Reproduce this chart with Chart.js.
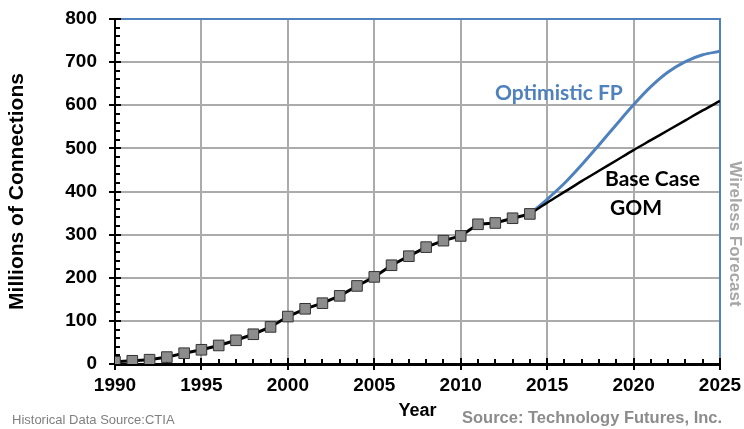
<!DOCTYPE html>
<html>
<head>
<meta charset="utf-8">
<script src="https://cdn.jsdelivr.net/npm/chart.js@4.4.1/dist/chart.umd.min.js"></script>
<style>
  html, body { margin: 0; padding: 0; background: #fff; }
  #wrap { width: 744px; height: 429px; }
</style>
</head>
<body>
<div id="wrap"><canvas id="myChart" width="744" height="429"></canvas></div>
<script>
// historical data (CTIA) and the two forecasts
const histYears = [1990, 1991, 1992, 1993, 1994, 1995, 1996, 1997, 1998, 1999,
  2000, 2001, 2002, 2003, 2004, 2005, 2006, 2007, 2008, 2009,
  2010, 2011, 2012, 2013, 2014];
const histValues = [5, 7.5, 10, 16, 25, 33, 43, 55, 69, 86,
  110, 128, 141, 158, 181, 202, 229, 250, 271, 286,
  297, 324, 327, 338, 348];

const forecastYears = [2014, 2015, 2016, 2017, 2018, 2019, 2020, 2021, 2022, 2023, 2024, 2025];
const baseValues = [348, 374, 399, 424, 448, 472, 496, 519, 542, 565, 588, 610];
const optimisticValues = [348, 382, 419, 462, 508, 555, 601, 643, 677, 701, 717, 725];

const labelOptimistic = "Optimistic FP";
const labelBase = ["Base Case", "GOM"];
const sideLabel = "Wireless Forecast";
const sourceLeft = "Historical Data Source:CTIA";
const sourceRight = "Source: Technology Futures, Inc.";

const BLUE = "#4f81bd";
const GRID = "#ababab";

function toPoints(xs, ys) {
  return xs.map((x, i) => ({ x: x, y: ys[i] }));
}

// minor ticks, blue frame and the text notes
const extrasPlugin = {
  id: "extras",
  beforeDatasetsDraw(chart) {
    const ctx = chart.ctx;
    const a = chart.chartArea;
    ctx.save();
    ctx.strokeStyle = BLUE;
    ctx.lineWidth = 2;
    ctx.beginPath();
    ctx.moveTo(a.left, a.top);
    ctx.lineTo(a.right, a.top);
    ctx.lineTo(a.right, a.bottom);
    ctx.stroke();

    const xs = chart.scales.x;
    const ys = chart.scales.y;
    ctx.strokeStyle = "#000";
    ctx.lineWidth = 2;
    ctx.beginPath();
    for (let yr = xs.min; yr <= xs.max; yr++) {
      const px = Math.round(xs.getPixelForValue(yr));
      if (yr % 5 === 0) {
        ctx.moveTo(px, a.bottom - 6);
        ctx.lineTo(px, a.bottom + 6);
      } else {
        ctx.moveTo(px, a.bottom - 5);
        ctx.lineTo(px, a.bottom);
      }
    }
    for (let v = ys.min; v <= ys.max; v += 20) {
      const py = Math.round(ys.getPixelForValue(v));
      if (v % 100 === 0) {
        ctx.moveTo(a.left - 6, py);
        ctx.lineTo(a.left + 6, py);
      } else {
        ctx.moveTo(a.left, py);
        ctx.lineTo(a.left + 5, py);
      }
    }
    ctx.stroke();
    ctx.restore();
  },
  afterDraw(chart) {
    const ctx = chart.ctx;
    ctx.save();
    ctx.textBaseline = "middle";

    ctx.fillStyle = BLUE;
    ctx.textAlign = "left";
    ctx.font = "bold 21px Lato, 'Open Sans', sans-serif";
    ctx.fillText(labelOptimistic, 495, 93);

    ctx.fillStyle = "#000";
    ctx.fillText(labelBase[0], 605, 179);
    ctx.fillText(labelBase[1], 610, 208);

    // vertical note on the right
    ctx.save();
    ctx.translate(735, 234);
    ctx.rotate(Math.PI / 2);
    ctx.textAlign = "center";
    ctx.fillStyle = "#a6a6a6";
    ctx.font = "bold 17px 'Liberation Sans', Arial, sans-serif";
    ctx.fillText(sideLabel, 0, 0);
    ctx.restore();

    ctx.textAlign = "left";
    ctx.fillStyle = "#808080";
    ctx.font = "13px 'Liberation Sans', Arial, sans-serif";
    ctx.fillText(sourceLeft, 12, 420);

    ctx.fillStyle = "#8c8c8c";
    ctx.font = "bold 16.5px 'Liberation Sans', Arial, sans-serif";
    ctx.fillText(sourceRight, 462, 418);
    ctx.restore();
  }
};

let ctx = document.getElementById("myChart").getContext("2d");
let myChart = new Chart(ctx, {
  type: "line",
  data: {
    datasets: [
      {
        label: "Optimistic FP",
        data: toPoints(forecastYears, optimisticValues),
        borderColor: BLUE,
        borderWidth: 3,
        pointRadius: 0,
        cubicInterpolationMode: "monotone",
        order: 3,
      },
      {
        label: "Base Case GOM",
        data: toPoints(forecastYears, baseValues),
        borderColor: "#000",
        borderWidth: 2.5,
        pointRadius: 0,
        cubicInterpolationMode: "monotone",
        order: 2,
      },
      {
        label: "Historical",
        data: toPoints(histYears, histValues),
        borderColor: "#000",
        borderWidth: 3,
        pointStyle: "rect",
        pointRadius: 7.5,
        pointBackgroundColor: "#8c8c8c",
        pointBorderColor: "#333",
        pointBorderWidth: 1,
        tension: 0,
        order: 1,
      },
    ],
  },
  options: {
    responsive: false,
    animation: false,
    devicePixelRatio: 1,
    layout: { padding: { top: 19, right: 24, left: 0, bottom: 0 } },
    plugins: {
      legend: { display: false },
      tooltip: { enabled: false },
    },
    scales: {
      x: {
        type: "linear",
        min: 1990,
        max: 2025,
        afterFit: (scale) => {
          scale.height = 65;
          scale.paddingLeft = 0;
          scale.paddingRight = 0;
        },
        ticks: {
          stepSize: 5,
          padding: 10,
          color: "#000",
          font: { family: "'Liberation Sans', Arial, sans-serif", size: 19, weight: "bold" },
          callback: (v) => String(v),
          maxRotation: 0,
        },
        grid: { color: GRID, lineWidth: 2, drawTicks: false },
        border: { color: "#000", width: 3 },
        title: {
          display: true,
          text: "Year",
          color: "#000",
          font: { family: "'Liberation Sans', Arial, sans-serif", size: 18, weight: "bold" },
          padding: { top: 0, bottom: 7 },
        },
      },
      y: {
        min: 0,
        max: 800,
        afterFit: (scale) => {
          scale.width = 115;
          scale.paddingTop = 0;
          scale.paddingBottom = 0;
        },
        ticks: {
          stepSize: 100,
          padding: 18,
          color: "#000",
          font: { family: "'Liberation Sans', Arial, sans-serif", size: 19, weight: "bold" },
        },
        grid: { color: GRID, lineWidth: 2, drawTicks: false },
        border: { color: "#000", width: 2 },
        title: {
          display: true,
          text: "Millions of Connections",
          color: "#000",
          font: { family: "'Liberation Sans', Arial, sans-serif", size: 21, weight: "bold" },
          padding: { top: 5, bottom: 0 },
        },
      },
    },
  },
  plugins: [extrasPlugin],
});
</script>
</body>
</html>
